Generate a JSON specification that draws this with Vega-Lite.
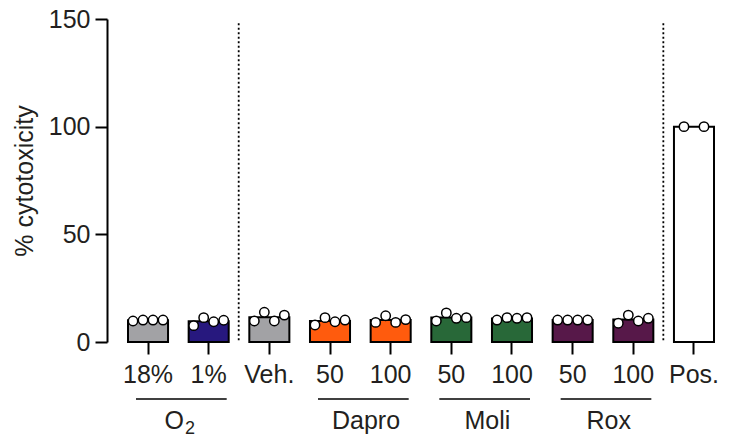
{
  "$schema": "https://vega.github.io/schema/vega-lite/v6.json",
  "width": 622,
  "height": 323,
  "autosize": {"type": "none"},
  "padding": {"left": 107, "top": 19, "right": 0, "bottom": 100},
  "background": "white",
  "config": {
    "view": {"stroke": null},
    "font": "Liberation Sans",
    "axis": {
      "labelFont": "Liberation Sans",
      "titleFont": "Liberation Sans",
      "labelFontSize": 25,
      "titleFontSize": 25,
      "titleFontWeight": "normal",
      "labelColor": "#231f20",
      "titleColor": "#231f20",
      "tickColor": "#000000",
      "domainColor": "#000000",
      "tickWidth": 2,
      "domainWidth": 2,
      "tickSize": 12,
      "grid": false
    }
  },
  "datasets": {
    "reps": [
      {"cond": "18%", "rep": "1", "value": 9.75},
      {"cond": "18%", "rep": "2", "value": 10.2},
      {"cond": "18%", "rep": "3", "value": 10.2},
      {"cond": "18%", "rep": "4", "value": 10.2},
      {"cond": "1%", "rep": "1", "value": 7.6},
      {"cond": "1%", "rep": "2", "value": 11.3},
      {"cond": "1%", "rep": "3", "value": 9.4},
      {"cond": "1%", "rep": "4", "value": 10.1},
      {"cond": "Veh.", "rep": "1", "value": 9.75},
      {"cond": "Veh.", "rep": "2", "value": 13.8},
      {"cond": "Veh.", "rep": "3", "value": 9.75},
      {"cond": "Veh.", "rep": "4", "value": 12.5},
      {"cond": "Dapro 50", "rep": "1", "value": 7.9},
      {"cond": "Dapro 50", "rep": "2", "value": 11.3},
      {"cond": "Dapro 50", "rep": "3", "value": 9.4},
      {"cond": "Dapro 50", "rep": "4", "value": 10.2},
      {"cond": "Dapro 100", "rep": "1", "value": 9.1},
      {"cond": "Dapro 100", "rep": "2", "value": 12.2},
      {"cond": "Dapro 100", "rep": "3", "value": 9.1},
      {"cond": "Dapro 100", "rep": "4", "value": 10.4},
      {"cond": "Moli 50", "rep": "1", "value": 9.75},
      {"cond": "Moli 50", "rep": "2", "value": 13.5},
      {"cond": "Moli 50", "rep": "3", "value": 11.0},
      {"cond": "Moli 50", "rep": "4", "value": 11.3},
      {"cond": "Moli 100", "rep": "1", "value": 10.2},
      {"cond": "Moli 100", "rep": "2", "value": 11.3},
      {"cond": "Moli 100", "rep": "3", "value": 11.0},
      {"cond": "Moli 100", "rep": "4", "value": 11.3},
      {"cond": "Rox 50", "rep": "1", "value": 10.2},
      {"cond": "Rox 50", "rep": "2", "value": 10.2},
      {"cond": "Rox 50", "rep": "3", "value": 10.2},
      {"cond": "Rox 50", "rep": "4", "value": 10.2},
      {"cond": "Rox 100", "rep": "1", "value": 8.7},
      {"cond": "Rox 100", "rep": "2", "value": 12.5},
      {"cond": "Rox 100", "rep": "3", "value": 9.75},
      {"cond": "Rox 100", "rep": "4", "value": 11.0},
      {"cond": "Pos.", "rep": "1", "value": 100},
      {"cond": "Pos.", "rep": "2", "value": 100}
    ],
    "groups": [
      {"group": "O", "sub": "2", "from": "18%", "to": "1%"},
      {"group": "Dapro", "from": "Dapro 50", "to": "Dapro 100"},
      {"group": "Moli", "from": "Moli 50", "to": "Moli 100"},
      {"group": "Rox", "from": "Rox 50", "to": "Rox 100"}
    ],
    "separators": [
      {"after": "1%"},
      {"after": "Rox 100"}
    ]
  },
  "layer": [
    {
      "data": {"name": "reps"},
      "mark": {"type": "bar", "stroke": "#000000", "strokeWidth": 2},
      "encoding": {
        "x": {
          "field": "cond",
          "type": "nominal",
          "scale": {
            "type": "band",
            "domain": ["18%", "1%", "Veh.", "Dapro 50", "Dapro 100", "Moli 50", "Moli 100", "Rox 50", "Rox 100", "Pos."],
            "range": [21, 607],
            "paddingInner": 0.34,
            "paddingOuter": 0
          },
          "axis": {
            "title": null,
            "domain": false,
            "labelAngle": 0,
            "labelPadding": 8,
            "labelOverlap": false,
            "labelExpr": "peek(split(datum.label, ' '))"
          }
        },
        "y": {
          "aggregate": "mean",
          "field": "value",
          "type": "quantitative",
          "scale": {"domain": [0, 150], "nice": false},
          "axis": {
            "title": "% cytotoxicity",
            "values": [0, 50, 100, 150],
            "labelPadding": 5,
            "titlePadding": 11
          }
        },
        "color": {
          "field": "cond",
          "type": "nominal",
          "legend": null,
          "scale": {
            "domain": ["18%", "1%", "Veh.", "Dapro 50", "Dapro 100", "Moli 50", "Moli 100", "Rox 50", "Rox 100", "Pos."],
            "range": ["#a2a2a5", "#27187e", "#a2a2a5", "#ff5b0d", "#ff5b0d", "#286838", "#286838", "#571849", "#571849", "#ffffff"]
          }
        }
      }
    },
    {
      "data": {"name": "reps"},
      "transform": [{"filter": "datum.cond !== 'Pos.'"}],
      "mark": {"type": "point", "filled": true, "fill": "#ffffff", "stroke": "#000000", "strokeWidth": 1.5, "size": 88, "opacity": 1},
      "encoding": {
        "x": {"field": "cond", "type": "nominal"},
        "xOffset": {"field": "rep", "type": "nominal", "scale": {"domain": ["1", "2", "3", "4"]}},
        "y": {"field": "value", "type": "quantitative"}
      }
    },
    {
      "data": {"name": "reps"},
      "transform": [{"filter": "datum.cond === 'Pos.'"}],
      "mark": {"type": "point", "filled": true, "fill": "#ffffff", "stroke": "#000000", "strokeWidth": 1.5, "size": 88, "opacity": 1},
      "encoding": {
        "x": {"field": "cond", "type": "nominal"},
        "xOffset": {"field": "rep", "type": "nominal", "scale": {"domain": ["1", "2"]}},
        "y": {"field": "value", "type": "quantitative"}
      }
    },
    {
      "mark": {"type": "rule", "stroke": "#000000", "strokeWidth": 2},
      "encoding": {"y": {"datum": 0}}
    },
    {
      "data": {"name": "separators"},
      "mark": {"type": "rule", "stroke": "#000000", "strokeWidth": 1.8, "strokeDash": [2, 2.5], "xOffset": 10},
      "encoding": {
        "x": {"field": "after", "type": "nominal", "bandPosition": 1},
        "y": {"datum": 148},
        "y2": {"datum": 0}
      }
    },
    {
      "data": {"name": "groups"},
      "mark": {"type": "rule", "stroke": "#000000", "strokeWidth": 1.5, "yOffset": 57},
      "encoding": {
        "x": {"field": "from", "type": "nominal", "bandPosition": 0.2},
        "x2": {"field": "to", "bandPosition": 0.95},
        "y": {"datum": 0}
      }
    },
    {
      "data": {"name": "groups"},
      "transform": [{"filter": "!isValid(datum.sub)"}],
      "mark": {"type": "text", "fontSize": 25, "color": "#231f20", "baseline": "middle", "align": "center", "yOffset": 79, "xOffset": 16},
      "encoding": {
        "x": {"field": "from", "type": "nominal", "bandPosition": 1},
        "y": {"datum": 0},
        "text": {"field": "group"}
      }
    },
    {
      "data": {"name": "groups"},
      "transform": [{"filter": "isValid(datum.sub)"}],
      "mark": {"type": "text", "fontSize": 25, "color": "#231f20", "baseline": "middle", "align": "right", "yOffset": 79, "xOffset": 16},
      "encoding": {
        "x": {"field": "from", "type": "nominal", "bandPosition": 1},
        "y": {"datum": 0},
        "text": {"field": "group"}
      }
    },
    {
      "data": {"name": "groups"},
      "transform": [{"filter": "isValid(datum.sub)"}],
      "mark": {"type": "text", "fontSize": 18, "color": "#231f20", "baseline": "middle", "align": "left", "yOffset": 87, "xOffset": 17},
      "encoding": {
        "x": {"field": "from", "type": "nominal", "bandPosition": 1},
        "y": {"datum": 0},
        "text": {"field": "sub"}
      }
    }
  ],
  "resolve": {"scale": {"xOffset": "independent"}}
}
